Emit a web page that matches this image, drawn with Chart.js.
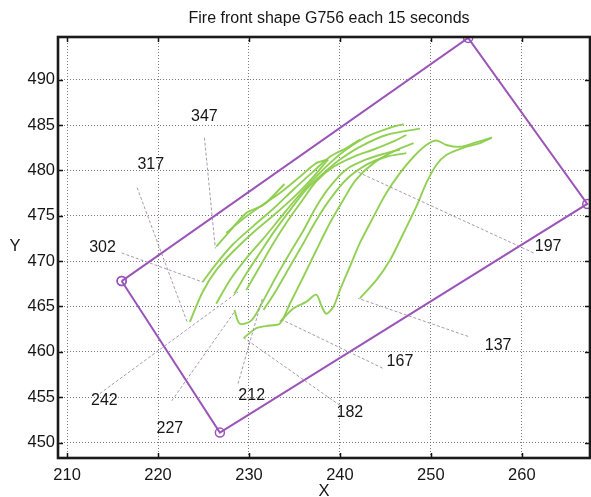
<!DOCTYPE html>
<html>
<head>
<meta charset="utf-8">
<script src="https://cdn.jsdelivr.net/npm/chart.js@4.4.1/dist/chart.umd.min.js"></script>
<style>
  html, body { margin: 0; padding: 0; background: #fff; }
  #wrap { width: 591px; height: 497px; }
</style>
</head>
<body>
<div id="wrap"><canvas id="c" width="591" height="497"></canvas></div>
<script>
// axis ticks
const xTicks = [210, 220, 230, 240, 250, 260];
const yTicks = [450, 455, 460, 465, 470, 475, 480, 485, 490];

// bounding rectangle (corners, closed)
const boxX = [216.0, 254.1, 267.2, 226.8, 216.0];
const boxY = [467.8, 494.6, 476.3, 451.1, 467.8];

// fire front lines as [x, y]
const front347 = [[226.4,471.6],[227.9,473.3],[229.7,475.3],[231.6,476.2],[233.9,478.5]];
const front332 = [[227.5,473.1],[229.4,474.7],[231.2,476.0],[233.4,477.5],[235.6,479.3],[237.4,480.8],[238.7,481.2]];
const front317 = [[223.5,463.3],[224.9,466.6],[226.4,469.0],[228.2,471.0],[230.4,473.1],[233.0,475.3],[235.2,477.3],[237.1,479.3],[238.7,481.2]];
const front302 = [[224.9,467.7],[226.4,469.7],[228.2,471.8],[230.4,473.8],[232.7,475.8],[234.9,477.9],[237.1,479.9],[238.9,481.5],[240.4,482.3],[242.2,483.4]];
const front287 = [[226.4,465.3],[227.9,467.9],[229.7,470.3],[231.6,472.5],[233.4,474.7],[235.2,476.9],[237.1,479.0],[238.9,480.8],[240.7,482.3],[242.9,483.7],[245.5,484.7],[247.0,485.1]];
const front257 = [[228.4,466.4],[229.7,468.6],[231.2,470.9],[232.8,473.3],[234.5,475.6],[236.3,477.9],[238.2,479.7],[240.0,481.2],[242.2,482.6],[245.1,483.9],[248.8,484.6]];
const front242 = [[229.7,466.8],[231.2,469.4],[232.7,472.0],[234.1,474.2],[235.8,476.6],[237.4,478.8],[239.3,480.4],[241.5,481.5],[243.7,482.3],[245.9,483.2],[247.3,483.9]];
const front227 = [[228.4,464.6],[229.0,463.1],[230.3,463.5],[231.6,465.7],[233.0,468.3],[234.5,470.9],[236.0,473.4],[237.4,476.0],[238.9,478.2],[240.7,480.1],[242.9,481.2],[245.1,481.9],[246.6,482.3]];
const front212 = [[231.6,464.6],[233.0,466.8],[234.5,469.4],[236.0,472.0],[237.4,474.5],[238.9,476.8],[240.7,479.0],[242.9,480.6],[245.1,481.5],[247.3,481.9]];
const front182 = [[229.4,461.5],[230.8,462.6],[232.3,462.9],[233.4,463.1],[234.5,465.3],[236.0,468.3],[237.4,471.2],[238.9,474.2],[240.4,476.8],[241.8,479.0],[243.7,480.8],[245.9,482.1],[248.1,483.0]];
const front167 = [[233.4,463.3],[234.9,464.8],[236.3,465.5],[237.4,466.3],[238.0,465.0],[238.5,464.2],[239.3,465.0],[240.0,466.8],[241.1,469.4],[242.2,472.0],[243.7,474.9],[245.1,477.5],[246.6,479.7],[248.1,481.5],[249.5,482.8],[250.6,483.3],[251.7,482.8],[253.2,482.6],[254.7,483.0],[256.7,483.6]];
const front137 = [[242.2,465.9],[244.0,467.9],[245.5,470.1],[247.0,473.1],[248.4,476.0],[249.5,478.6],[250.6,480.6],[251.7,481.7],[253.6,482.5],[255.4,483.0],[256.7,483.6]];

// time labels and their leader lines
const labelText = ['347', '317', '302', '242', '212', '227', '182', '167', '137', '197'];
const labelX    = [225.1, 219.2, 213.9, 214.1, 230.3, 221.3, 241.1, 246.6, 257.4, 262.9];
const labelY    = [485.9, 480.6, 471.5, 454.6, 455.2, 451.5, 453.3, 458.9, 460.7, 471.6];
const leadX0 = [225.1, 217.7, 216.0, 213.6, 228.8, 221.5, 240.0, 244.7, 254.1, 261.3];
const leadY0 = [483.6, 478.1, 470.9, 455.4, 456.5, 454.6, 454.1, 458.2, 461.7, 470.9];
const leadX1 = [226.3, 223.2, 224.9, 228.8, 231.5, 228.4, 229.5, 233.7, 242.0, 242.0];
const leadY1 = [471.4, 463.3, 467.7, 466.6, 466.0, 464.4, 461.5, 463.5, 465.9, 479.8];

const fronts = [front347, front332, front317, front302, front287, front257, front242,
                front227, front212, front182, front167, front137];

const GREEN = 'rgba(140, 205, 75, 0.95)';
const PURPLE = '#9b55b8';
const FONT = 'Liberation Sans, Arial, sans-serif';
const TEXT = '#161616';

const datasets = [];

// leader lines first so they sit under the curves
labelText.forEach(function(t, i) {
    datasets.push({
        data: [{ x: leadX0[i], y: leadY0[i] }, { x: leadX1[i], y: leadY1[i] }],
        showLine: true,
        borderColor: 'rgba(150, 135, 165, 0.85)',
        borderWidth: 1,
        borderDash: [3, 2],
        pointRadius: 0
    });
});

fronts.forEach(function(f) {
    datasets.push({
        data: f.map(p => ({ x: p[0], y: p[1] })),
        showLine: true,
        borderColor: GREEN,
        borderWidth: 1.9,
        tension: 0.3,
        pointRadius: 0
    });
});

datasets.push({
    data: boxX.map((x, i) => ({ x: x, y: boxY[i] })),
    showLine: true,
    borderColor: PURPLE,
    borderWidth: 2,
    pointRadius: 4.5,
    pointBorderWidth: 1.5,
    pointBackgroundColor: 'rgba(0,0,0,0)',
    pointBorderColor: PURPLE
});

// frame, inward tick marks, title, Y label and time labels
const decorations = {
    id: 'decorations',
    afterDatasetsDraw(chart) {
        const ctx = chart.ctx;
        const a = chart.chartArea;
        const xs = chart.scales.x, ys = chart.scales.y;
        ctx.save();

        ctx.fillStyle = TEXT;
        ctx.font = '16px ' + FONT;
        ctx.textAlign = 'center';
        ctx.textBaseline = 'middle';
        labelText.forEach(function(t, i) {
            ctx.fillText(t, xs.getPixelForValue(labelX[i]), ys.getPixelForValue(labelY[i]));
        });

        ctx.strokeStyle = '#111';
        ctx.lineWidth = 1.5;
        ctx.beginPath();
        xTicks.forEach(function(v) {
            const px = Math.round(xs.getPixelForValue(v)) + 0.5;
            ctx.moveTo(px, a.bottom); ctx.lineTo(px, a.bottom - 5);
            ctx.moveTo(px, a.top); ctx.lineTo(px, a.top + 5);
        });
        yTicks.forEach(function(v) {
            const py = Math.round(ys.getPixelForValue(v)) + 0.5;
            ctx.moveTo(a.left, py); ctx.lineTo(a.left + 5, py);
            ctx.moveTo(a.right, py); ctx.lineTo(a.right - 5, py);
        });
        ctx.stroke();

        ctx.lineWidth = 2.6;
        ctx.strokeStyle = '#1a1a1a';
        ctx.strokeRect(a.left, a.top, a.right - a.left, a.bottom - a.top);

        ctx.fillStyle = TEXT;
        ctx.font = '16px ' + FONT;
        ctx.fillText('Fire front shape G756 each 15 seconds', 329, 19);
        ctx.font = '16.5px ' + FONT;
        ctx.fillText('Y', 15, 246);
        ctx.restore();
    }
};

new Chart(document.getElementById('c'), {
    type: 'scatter',
    data: { datasets: datasets },
    options: {
        responsive: false,
        animation: false,
        layout: { autoPadding: false, padding: { top: 37, left: 0, right: 1, bottom: 0 } },
        plugins: { legend: { display: false }, tooltip: { enabled: false }, title: { display: false } },
        scales: {
            x: {
                type: 'linear',
                min: 209,
                max: 267.5,
                afterBuildTicks: s => { s.ticks = xTicks.map(v => ({ value: v })); },
                afterFit: s => { s.height = 39; s.paddingLeft = 0; s.paddingRight = 0; },
                ticks: { color: TEXT, padding: 8, font: { family: FONT, size: 16.5 } },
                grid: { color: 'rgba(80,80,80,0.75)', lineWidth: 1, drawTicks: false },
                border: { display: false, dash: [1, 2] },
                title: { display: true, text: 'X', color: TEXT, padding: { top: 0, bottom: -4 }, font: { family: FONT, size: 16.5 } }
            },
            y: {
                type: 'linear',
                min: 448.3,
                max: 494.7,
                afterBuildTicks: s => { s.ticks = yTicks.map(v => ({ value: v })); },
                afterFit: s => { s.width = 58; s.paddingTop = 0; s.paddingBottom = 0; },
                ticks: { color: TEXT, padding: 3, font: { family: FONT, size: 16.5 } },
                grid: { color: 'rgba(80,80,80,0.75)', lineWidth: 1, drawTicks: false },
                border: { display: false, dash: [1, 2] }
            }
        }
    },
    plugins: [decorations]
});
</script>
</body>
</html>
